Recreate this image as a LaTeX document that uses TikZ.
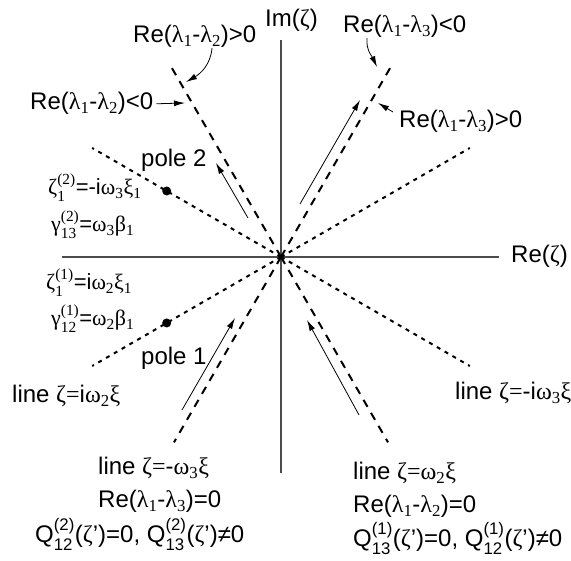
\documentclass[tikz,border=0pt]{standalone}
\usepackage{amsmath}
\usepackage{fontspec}
\setmainfont{Liberation Sans}
\newfontfamily\grk{Liberation Serif}
\usetikzlibrary{arrows.meta, calc}

\newcommand{\gk}[1]{{\grk #1}}
\newcommand{\lo}[2]{#1$_{\text{#2}}$}
\newcommand{\lohi}[3]{#1$^{\text{#2}}_{\text{#3}}$}

\begin{document}
\begin{tikzpicture}[x=1pt, y=1pt, >={Latex[length=11pt,width=6pt]},
    font=\fontsize{24}{28}\selectfont,
    axis/.style={line width=1.2pt, black!70},
    longdash/.style={line width=2pt, dash pattern=on 8pt off 7pt},
    shortdash/.style={line width=2pt, dash pattern=on 4pt off 5pt},
    lbl/.style={inner sep=0pt, anchor=base west},
    smlbl/.style={lbl, font=\fontsize{22}{26}\selectfont},
    flow/.style={->, line width=0.8pt},
    pole/.style={circle, fill, inner sep=0pt, minimum size=9pt}]
    \useasboundingbox (0,0) rectangle (571,561);
    \coordinate (O) at (281,304);

    % Оси
    \draw[axis] (62,304) -- (499,304);
    \draw[axis] (281,88) -- (281,521);
    \node[lbl] (re) at (511,298) {Re(\gk{ζ})};
    \node[lbl] (im) at (265,534) {Im(\gk{ζ})};

    % Лучи
    \foreach \a in {60,120} \draw[longdash] (O) -- ++(\a:222);
    \foreach \a in {240,300} \draw[longdash] (O) -- ++(\a:214);
    \foreach \a in {30,150,210,330} \draw[shortdash] (O) -- ++(\a:218);

    % Полюсы
    \node[pole] (p2) at ($(O)+(150:132)$) {};
    \node[pole] (p1) at ($(O)+(210:132)$) {};
    \node[lbl] (p2txt) at (141,394) {pole 2};
    \node[lbl] (p1txt) at (141,196) {pole 1};
    \node[smlbl] (zeta2) at (48,366) {\lohi{\gk{ζ}}{\gk{(2)}}{\gk{1}}=-i\lo{\gk{ω}}{\gk{3}}\lo{\gk{ξ}}{\gk{1}}};
    \node[smlbl] (gam2) at (51,329) {\lohi{\gk{γ}}{\gk{(2)}}{\gk{13}}=\lo{\gk{ω}}{\gk{3}}\lo{\gk{β}}{\gk{1}}};
    \node[smlbl] (zeta1) at (46,271) {\lohi{\gk{ζ}}{\gk{(1)}}{\gk{1}}=i\lo{\gk{ω}}{\gk{2}}\lo{\gk{ξ}}{\gk{1}}};
    \node[smlbl] (gam1) at (51,235) {\lohi{\gk{γ}}{\gk{(1)}}{\gk{12}}=\lo{\gk{ω}}{\gk{2}}\lo{\gk{β}}{\gk{1}}};

    % Стрелки вдоль лучей
    \coordinate (a1s) at (248,343); \coordinate (a1e) at (216,398);
    \coordinate (a2s) at (300,357); \coordinate (a2e) at (360,461);
    \coordinate (a3s) at (182,151); \coordinate (a3e) at (235,243);
    \coordinate (a4s) at (359,146); \coordinate (a4e) at (307,241);
    \draw[flow] (a1s) -- (a1e);
    \draw[flow] (a2s) -- (a2e);
    \draw[flow] (a3s) -- (a3e);
    \draw[flow] (a4s) -- (a4e);

    % Подписи сверху
    \node[lbl] (relam12pos) at (133,518) {Re(\lo{\gk{λ}}{\gk{1}}-\lo{\gk{λ}}{\gk{2}})>0};
    \node[lbl] (relam12neg) at (30,451) {Re(\lo{\gk{λ}}{\gk{1}}-\lo{\gk{λ}}{\gk{2}})<0};
    \node[lbl] (relam13neg) at (343,528) {Re(\lo{\gk{λ}}{\gk{1}}-\lo{\gk{λ}}{\gk{3}})<0};
    \node[lbl] (relam13pos) at (399,433) {Re(\lo{\gk{λ}}{\gk{1}}-\lo{\gk{λ}}{\gk{3}})>0};
    \coordinate (t12pos) at (186,479);
    \coordinate (t12neg) at (185,458);
    \coordinate (t13neg) at (377,494);
    \coordinate (t13pos) at (378,458);
    \draw[flow] ([xshift=79pt]relam12pos.south west) to[out=-95,in=30] (t12pos);
    \draw[flow] ([xshift=3pt]relam12neg.east) -- (t12neg);
    \draw[flow] ([xshift=24pt]relam13neg.south west) to[out=-95,in=115] (t13neg);
    \draw[flow] ([shift={(-6pt,16pt)}]relam13pos.base west) -- (t13pos);

    % Линии
    \node[lbl] (ln2) at (12,158) {line \gk{ζ=}i\lo{\gk{ω}}{\gk{2}}\gk{ξ}};
    \node[lbl] (ln3) at (455,161) {line \gk{ζ=}-i\lo{\gk{ω}}{\gk{3}}\gk{ξ}};

    % Подписи снизу
    \node[lbl] (lnw3) at (98,86) {line \gk{ζ=}-\lo{\gk{ω}}{\gk{3}}\gk{ξ}};
    \node[lbl] (re13) at (98,53) {Re(\lo{\gk{λ}}{\gk{1}}-\lo{\gk{λ}}{\gk{3}})=0};
    \node[lbl] (q2) at (35,18) {\lohi{Q}{(2)}{12}(\gk{ζ}')=0, \lohi{Q}{(2)}{13}(\gk{ζ}')≠0};
    \node[lbl] (lnw2) at (353,81) {line \gk{ζ=}\lo{\gk{ω}}{\gk{2}}\gk{ξ}};
    \node[lbl] (re12) at (353,48) {Re(\lo{\gk{λ}}{\gk{1}}-\lo{\gk{λ}}{\gk{2}})=0};
    \node[lbl] (q1) at (353,14) {\lohi{Q}{(1)}{13}(\gk{ζ}')=0, \lohi{Q}{(1)}{12}(\gk{ζ}')≠0};
\end{tikzpicture}
\end{document}
